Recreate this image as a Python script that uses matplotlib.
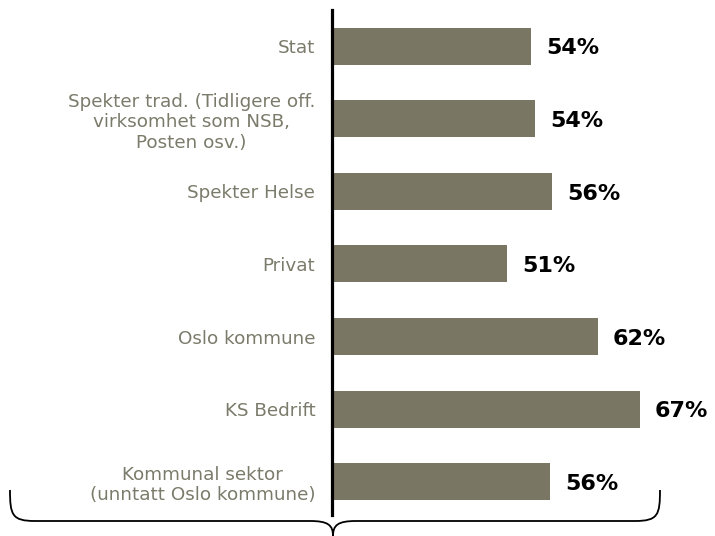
import matplotlib.pyplot as plt
from matplotlib.path import Path
from matplotlib.patches import PathPatch

categories = ["Stat",
              "Spekter trad. (Tidligere off.\nvirksomhet som NSB,\nPosten osv.)",
              "Spekter Helse",
              "Privat",
              "Oslo kommune",
              "KS Bedrift",
              "Kommunal sektor\n(unntatt Oslo kommune)"]
values = [53.9, 54.4, 56.4, 51.0, 61.9, 67.0, 56.2]
labels = ["54%", "54%", "56%", "51%", "62%", "67%", "56%"]

W, H = 715, 536
fig = plt.figure(figsize=(W / 100, H / 100), dpi=100)
ax = fig.add_axes([332 / W, 21 / H, (W - 332) / W, 505 / H])

pos = list(range(len(categories)))
ax.barh(pos, [v - 30 for v in values], left=30, height=0.51, color="#797664")
ax.set_xlim(30, 76)
ax.set_ylim(6.46, -0.5)

for p, v, t in zip(pos, values, labels):
    ax.text(v + 1.8, p + 0.03, t, va="center", ha="left", fontsize=16,
            fontweight="bold", color="black")

ax.set_yticks(pos)
ax.set_yticklabels(categories, fontsize=13.2, color="#7b7b6b",
                   multialignment="center", linespacing=1.18)
ax.tick_params(axis="y", length=0, pad=12)
ax.set_xticks([])
for s in ["top", "right", "bottom"]:
    ax.spines[s].set_visible(False)
ax.spines["left"].set_linewidth(2.3)
ax.spines["left"].set_color("black")

# curly brace under the chart
def fx(x):
    return x / W

def fy(y):
    return 1 - y / H

pts = [(10, 490), (10, 515), (12, 521), (35, 521), (310, 521),
       (328, 521), (333, 525), (333, 536),
       (333, 525), (338, 521), (356, 521), (635, 521),
       (658, 521), (660, 515), (660, 490)]
codes = [Path.MOVETO, Path.CURVE4, Path.CURVE4, Path.CURVE4, Path.LINETO,
         Path.CURVE4, Path.CURVE4, Path.CURVE4,
         Path.CURVE4, Path.CURVE4, Path.CURVE4, Path.LINETO,
         Path.CURVE4, Path.CURVE4, Path.CURVE4]
brace = Path([(fx(x), fy(y)) for x, y in pts], codes)
fig.patches.append(PathPatch(brace, transform=fig.transFigure, fill=False,
                             lw=1.3, edgecolor="black"))

fig.savefig("out.png", dpi=100)
